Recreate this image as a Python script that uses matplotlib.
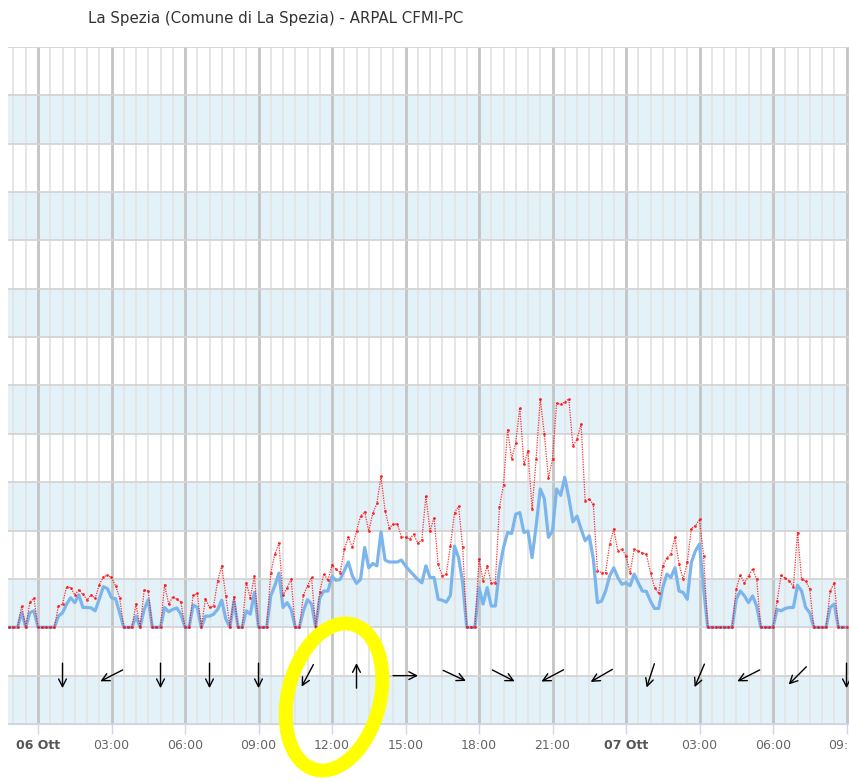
import numpy as np
import matplotlib
matplotlib.use('Agg')
from matplotlib import pyplot as plt
from matplotlib import transforms as mtransforms
from matplotlib.patches import Ellipse

# 10 minute samples, hours relative to 06 Ott 00:00 (first one at 05/10 22:50)
start_hour = -70 / 60
step_hour = 10 / 60

# wind gust (red dotted) and mean wind (blue), in grid units
gust = [0, 0, 0, 0.44, 0, 0.52, 0.60, 0, 0, 0,
        0, 0, 0.44, 0.48, 0.84, 0.82, 0.67, 0.77, 0.68, 0.57,
        0.67, 0.60, 0.88, 1.04, 1.08, 1.03, 0.86, 0.61, 0, 0,
        0, 0.48, 0, 0.77, 0.75, 0, 0, 0, 0.88, 0.48,
        0.63, 0.58, 0.52, 0, 0, 0.66, 0.70, 0, 0.59, 0.41,
        0.44, 0.96, 1.27, 0.65, 0, 0.63, 0, 0, 0.92, 0.61,
        1.06, 0, 0, 0, 1.12, 1.51, 1.74, 0.66, 0.82, 0.99,
        0, 0, 0.66, 0.86, 1.03, 0, 0.73, 1.11, 0.97, 1.29,
        1.20, 1.13, 1.61, 1.86, 1.65, 1.99, 2.30, 2.39, 1.99, 2.36,
        2.56, 3.12, 2.41, 2.06, 2.13, 2.14, 1.87, 1.86, 1.83, 1.92,
        1.74, 1.81, 2.72, 1.99, 2.27, 1.30, 1.06, 1.10, 1.68, 2.37,
        2.50, 1.65, 0, 0, 0, 1.41, 0.96, 1.27, 0.92, 0.92,
        2.48, 2.95, 4.08, 3.48, 3.82, 4.54, 3.37, 3.65, 2.44, 3.48,
        4.73, 3.99, 3.08, 3.48, 4.63, 4.61, 4.66, 4.72, 3.75, 3.89,
        4.20, 2.61, 2.65, 2.54, 1.17, 1.13, 1.13, 1.72, 2.03, 1.58,
        1.61, 1.48, 1.13, 1.61, 1.58, 1.54, 1.51, 1.13, 0.82, 0.70,
        1.27, 1.44, 1.51, 1.86, 1.30, 0.99, 1.34, 2.04, 2.10, 2.23,
        1.48, 0, 0, 0, 0, 0, 0, 0, 0.79, 1.08,
        0.92, 1.06, 1.21, 0.99, 0, 0, 0, 0, 0.54, 1.08,
        1.01, 0.96, 0.84, 1.96, 0.99, 0.96, 0.79, 0, 0, 0,
        0, 0.75, 0.92, 0, 0, 0]

mean = [0, 0, 0, 0.30, 0, 0.30, 0.34, 0, 0, 0,
        0, 0, 0.23, 0.30, 0.48, 0.61, 0.51, 0.67, 0.41, 0.41,
        0.40, 0.34, 0.58, 0.84, 0.80, 0.61, 0.59, 0.30, 0, 0,
        0, 0.23, 0, 0.37, 0.57, 0, 0, 0, 0.41, 0.32,
        0.37, 0.40, 0.27, 0, 0, 0.46, 0.41, 0, 0.23, 0.23,
        0.27, 0.37, 0.56, 0.17, 0, 0.54, 0, 0, 0.34, 0.27,
        0.72, 0, 0, 0, 0.65, 0.86, 1.12, 0.41, 0.51, 0.37,
        0, 0, 0.34, 0.57, 0.48, 0, 0.61, 0.75, 0.75, 1.05,
        0.97, 0.99, 1.17, 1.35, 1.06, 0.91, 0.99, 1.65, 1.23, 1.32,
        1.27, 1.97, 1.39, 1.35, 1.35, 1.35, 1.39, 1.27, 1.17, 1.08,
        0.99, 0.92, 1.27, 1.03, 1.03, 0.58, 0.56, 0.52, 0.66, 1.68,
        1.44, 0.92, 0, 0, 0, 0.82, 0.48, 0.82, 0.44, 0.44,
        1.20, 1.65, 1.96, 1.94, 2.34, 2.37, 1.96, 1.99, 1.44, 2.10,
        2.86, 2.66, 1.86, 1.99, 2.86, 2.73, 3.10, 2.68, 2.18, 2.30,
        2.03, 1.79, 1.89, 1.41, 0.51, 0.54, 0.75, 1.06, 1.23, 1.03,
        0.89, 0.92, 0.86, 1.10, 0.92, 0.75, 0.74, 0.54, 0.39, 0.39,
        0.82, 1.10, 1.03, 1.23, 0.75, 0.72, 0.58, 1.34, 1.58, 1.72,
        0.82, 0, 0, 0, 0, 0, 0, 0, 0.58, 0.75,
        0.65, 0.51, 0.65, 0.44, 0, 0, 0, 0, 0.37, 0.34,
        0.39, 0.41, 0.41, 0.87, 0.75, 0.41, 0.30, 0, 0, 0,
        0, 0.41, 0.48, 0, 0, 0]

# wind direction (degrees, coming from) every 2 hours
arrow_hours = [1, 3, 5, 7, 9, 11, 13, 15, 17, 19, 21, 23, 25, 27, 29, 31, 33]
wind_from = [0, 63, 0, 0, 0, 28, 180, 270, 295, 297, 62, 60, 18, 23, 63, 45, 0]

tick_hours = [0, 3, 6, 9, 12, 15, 18, 21, 24, 27, 30, 33]
tick_labels = ['06 Ott', '03:00', '06:00', '09:00', '12:00', '15:00',
               '18:00', '21:00', '07 Ott', '03:00', '06:00', '09:00']

hours = start_hour + step_hour * np.arange(len(gust))

fig = plt.figure(figsize=(8.49, 7.82), dpi=100)
ax = fig.add_axes([8 / 849, 58 / 782, 841 / 849, 677 / 782])

# alternating bands
for lo in range(-2, 12, 2):
    ax.axhspan(lo, lo + 1, color='#e3f1f9', lw=0, zorder=0)

ax.set_axisbelow(True)
ax.set_yticks(range(-2, 13))
ax.grid(axis='y', color='#d4d4d4', lw=1.3)
ax.set_xticks(tick_hours)
ax.set_xticklabels(tick_labels)
ax.set_xticks(np.arange(-1, 33.5, 0.5), minor=True)
ax.grid(axis='x', which='minor', color='#e4e4e4', lw=1.3)
ax.grid(axis='x', which='major', color='#c4c4c4', lw=2)
ax.tick_params(axis='y', left=False, labelleft=False)
ax.tick_params(axis='x', which='minor', length=0)
ax.tick_params(axis='x', which='major', length=7, color='#ccd6eb', width=1,
               pad=4, labelsize=9, labelcolor='#666666')
for lbl in ax.get_xticklabels():
    if 'Ott' in lbl.get_text():
        lbl.set_fontweight('bold')
        lbl.set_color('#555555')

for s in ['top', 'left', 'right']:
    ax.spines[s].set_visible(False)
ax.spines['bottom'].set_color('#ccd6eb')

ax.plot(hours, mean, color='#7cb5ec', lw=2.3, solid_joinstyle='round', zorder=3)
ax.plot(hours, gust, color='#ff0000', lw=0.9, ls=(0, (1, 1)), marker='o',
        ms=2.0, mec='none', alpha=0.8, zorder=4)

# direction arrows
L = 18
for h, d in zip(arrow_hours, wind_from):
    a = np.radians(270 - d)
    dx, dy = np.cos(a) * L / 2, np.sin(a) * L / 2
    head = ax.transData + mtransforms.ScaledTranslation(dx / 72, dy / 72, fig.dpi_scale_trans)
    tail = ax.transData + mtransforms.ScaledTranslation(-dx / 72, -dy / 72, fig.dpi_scale_trans)
    ax.annotate('', xy=(h, -1), xycoords=head, xytext=(h, -1), textcoords=tail,
                arrowprops=dict(arrowstyle='->,head_length=0.55,head_width=0.28',
                                color='black', lw=1.0, shrinkA=0, shrinkB=0),
                annotation_clip=False, zorder=6)

ax.set_xlim(-30 / 24.5, 811 / 24.5)
ax.set_ylim(-2, 12)

# yellow marker circle
ring = Ellipse((334, 782 - 697), width=92, height=150, angle=-14.5, fill=False,
               edgecolor='#ffff00', lw=10, transform=mtransforms.IdentityTransform(),
               clip_on=False, zorder=5)
ax.add_artist(ring)

fig.text(88 / 849, 1 - 18 / 782, 'La Spezia (Comune di La Spezia) - ARPAL CFMI-PC',
         ha='left', va='center', fontsize=10.8, color='#333333')

fig.savefig('out.png', dpi=100)
